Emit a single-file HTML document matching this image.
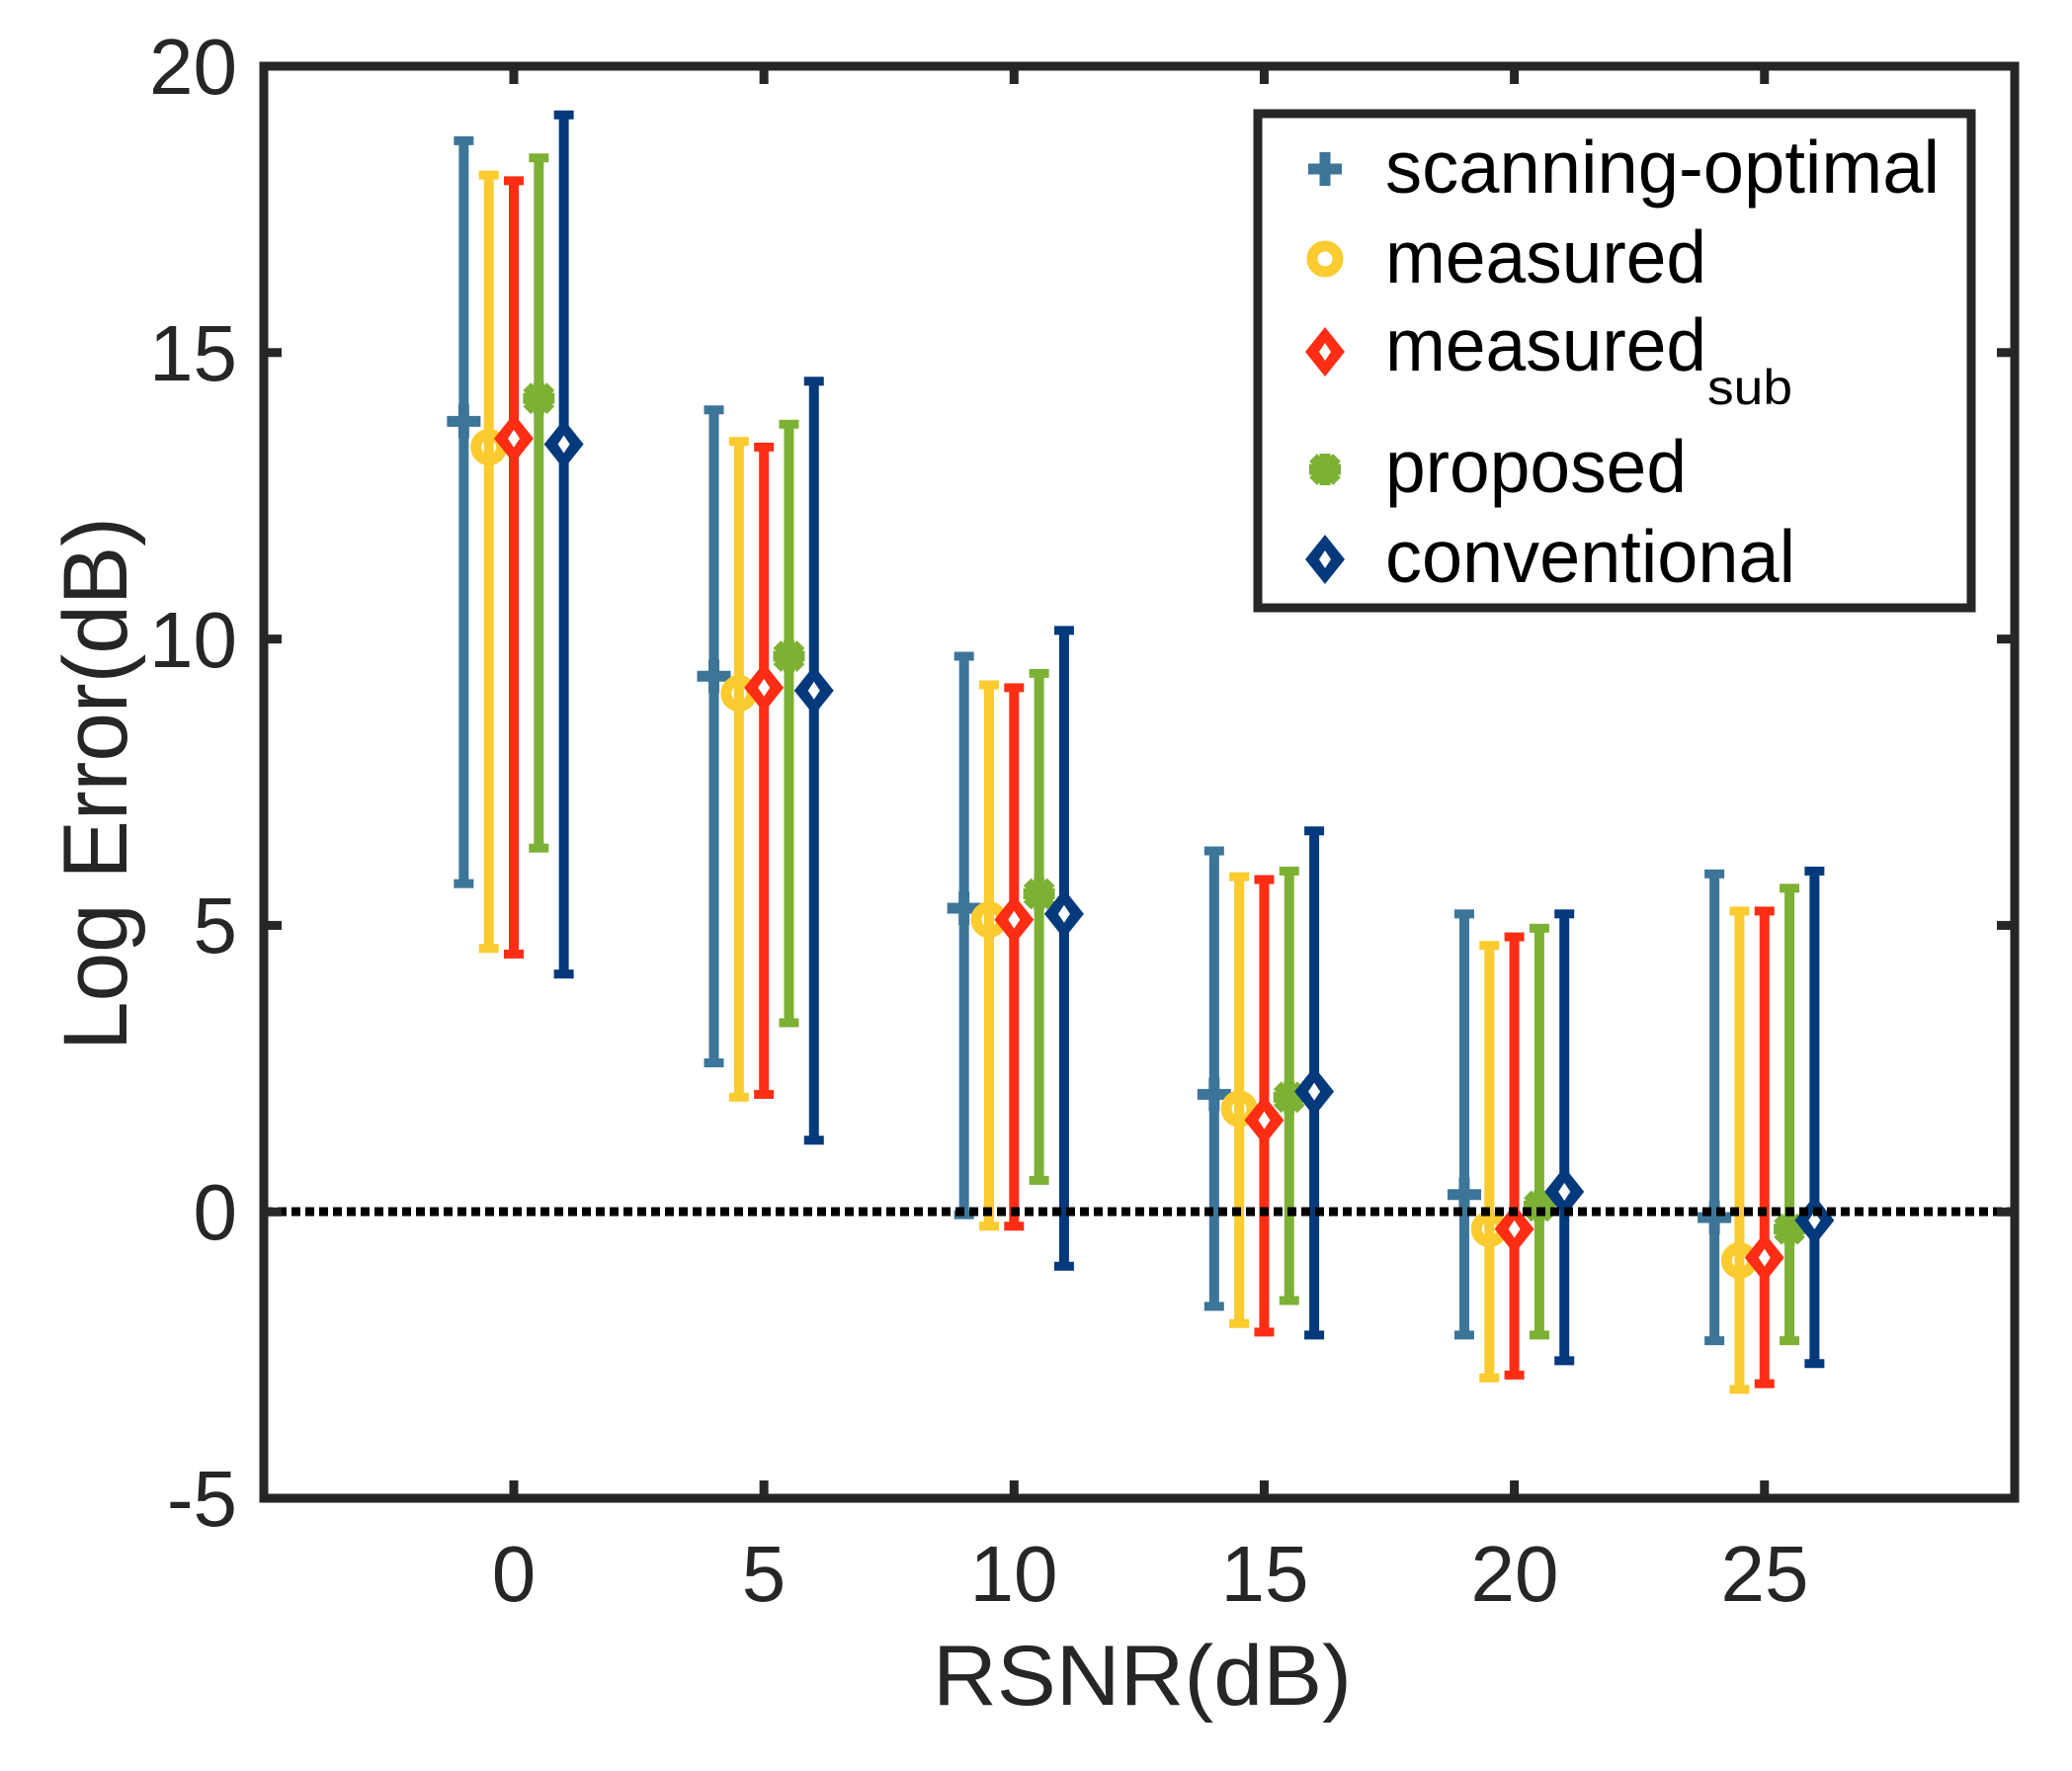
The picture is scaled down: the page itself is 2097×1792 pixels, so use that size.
<!DOCTYPE html>
<html><head><meta charset="utf-8"><style>html,body{margin:0;padding:0;background:#fff}svg{display:block}</style></head>
<body>
<svg id="s" xmlns="http://www.w3.org/2000/svg" width="2097" height="1792" viewBox="0 0 2097 1792" font-family="Liberation Sans, sans-serif" fill="#262626">
<rect width="2097" height="1792" fill="#fff"/>
<g id="data"></g>
<line x1="267" y1="1226" x2="2039" y2="1226" stroke="#000" stroke-width="9" stroke-dasharray="9 5"/>
<rect x="267" y="67" width="1772" height="1449" fill="none" stroke="#262626" stroke-width="9"/>
<g id="ticks" stroke="#262626" stroke-width="9"></g>
<g font-size="80" text-anchor="end">
<text x="240" y="95">20</text><text x="240" y="385">15</text><text x="240" y="675">10</text>
<text x="240" y="964">5</text><text x="240" y="1254">0</text><text x="240" y="1544">-5</text>
</g>
<g font-size="80" text-anchor="middle">
<text x="520" y="1620">0</text><text x="773" y="1620">5</text><text x="1026" y="1620">10</text>
<text x="1280" y="1620">15</text><text x="1533" y="1620">20</text><text x="1786" y="1620">25</text>
</g>
<text x="1156" y="1725" font-size="86" text-anchor="middle" textLength="424" lengthAdjust="spacingAndGlyphs">RSNR(dB)</text>
<text transform="translate(128,793) rotate(-90)" font-size="92" text-anchor="middle" textLength="540" lengthAdjust="spacingAndGlyphs">Log Error(dB)</text>
<rect x="1273" y="115" width="722" height="500" fill="#fff" stroke="#262626" stroke-width="9"/>
<g font-size="75" fill="#000">
<text x="1402" y="195" textLength="561" lengthAdjust="spacingAndGlyphs">scanning-optimal</text>
<text x="1402" y="286" textLength="325" lengthAdjust="spacingAndGlyphs">measured</text>
<text x="1402" y="375" textLength="325" lengthAdjust="spacingAndGlyphs">measured</text>
<text x="1728" y="409" font-size="50" textLength="86" lengthAdjust="spacingAndGlyphs">sub</text>
<text x="1402" y="498" textLength="305" lengthAdjust="spacingAndGlyphs">proposed</text>
<text x="1402" y="589" textLength="415" lengthAdjust="spacingAndGlyphs">conventional</text>
</g>
<g id="leg"></g>
</svg>
<script>
const C=['#3d7599','#fbcb2f','#fe2d14','#7db135','#043a7c'];
const X=v=>520+v*50.63, Y=v=>67+(20-v)*57.96;
const D=[
[[18.7,5.73,13.8],[18.1,4.6,13.35],[18.0,4.5,13.5],[18.4,6.35,14.2],[19.15,4.15,13.4]],
[[14.0,2.6,9.35],[13.45,2.0,9.05],[13.35,2.05,9.15],[13.75,3.3,9.7],[14.5,1.25,9.1]],
[[9.7,-0.05,5.3],[9.2,-0.25,5.1],[9.15,-0.25,5.1],[9.4,0.55,5.55],[10.15,-0.95,5.2]],
[[6.3,-1.65,2.05],[5.85,-1.95,1.8],[5.8,-2.1,1.6],[5.95,-1.55,2.0],[6.65,-2.15,2.1]],
[[5.2,-2.15,0.3],[4.65,-2.9,-0.3],[4.8,-2.85,-0.3],[4.95,-2.15,0.1],[5.2,-2.6,0.35]],
[[5.9,-2.25,-0.1],[5.25,-3.1,-0.85],[5.25,-3.0,-0.8],[5.65,-2.25,-0.3],[5.95,-2.65,-0.15]]];
const off=[-1,-0.5,0,0.5,1];
function marker(k,x,y){const c=C[k];
 if(k==0)return `<path d="M${x-17} ${y}h34M${x} ${y-17}v34" stroke="${c}" stroke-width="11" fill="none"/>`;
 if(k==1)return `<circle cx="${x}" cy="${y}" r="13" stroke="${c}" stroke-width="11" fill="none"/>`;
 if(k==3)return `<g stroke="${c}" stroke-width="11"><path d="M${x-16} ${y}h32M${x} ${y-16}v32M${x-12} ${y-12}l24 24M${x+12} ${y-12}l-24 24"/></g><circle cx="${x}" cy="${y}" r="13" fill="${c}"/>`;
 return `<path d="M${x} ${y-25}L${x+20} ${y}L${x} ${y+25}L${x-20} ${y}Z" fill="${c}"/><path d="M${x} ${y-9}L${x+6} ${y}L${x} ${y+9}L${x-6} ${y}Z" fill="#fff"/>`;}
let h='';
D.forEach((g,i)=>g.forEach((s,k)=>{const x=X(i*5+off[k]),c=C[k];
 h+=`<line x1="${x}" y1="${Y(s[0])}" x2="${x}" y2="${Y(s[1])}" stroke="${c}" stroke-width="10"/>`;
 h+=`<line x1="${x-10}" y1="${Y(s[0])}" x2="${x+10}" y2="${Y(s[0])}" stroke="${c}" stroke-width="9"/>`;
 h+=`<line x1="${x-10}" y1="${Y(s[1])}" x2="${x+10}" y2="${Y(s[1])}" stroke="${c}" stroke-width="9"/>`;
 h+=marker(k,x,Y(s[2]));}));
document.getElementById('data').innerHTML=h;
let t='';
for(let v=-5;v<=20;v+=5){const y=Y(v);t+=`<path d="M267 ${y}h18M2039 ${y}h-18"/>`;}
for(let v=0;v<=25;v+=5){const x=X(v);t+=`<path d="M${x} 1516v-18M${x} 67v18"/>`;}
document.getElementById('ticks').innerHTML=t;
let l='';[171,262,356,475,566].forEach((y,k)=>l+=marker(k,1341,y));
document.getElementById('leg').innerHTML=l;
</script>
</body></html>
